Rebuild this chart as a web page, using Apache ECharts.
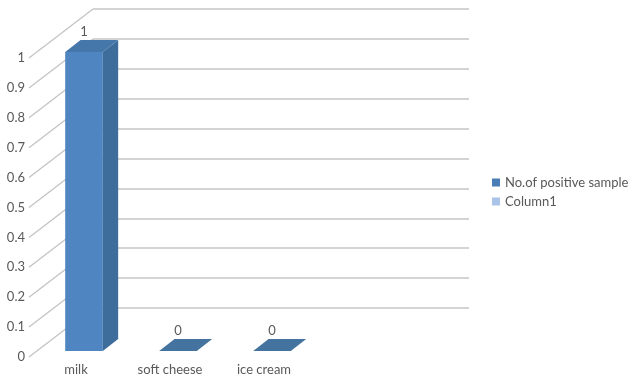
<!DOCTYPE html>
<html>
<head>
<meta charset="utf-8">
<script src="https://cdn.jsdelivr.net/npm/echarts@6/dist/echarts.min.js"></script>
<style>
  html, body { margin: 0; padding: 0; background: #fff; }
  #chart { width: 634px; height: 380px; }
</style>
</head>
<body>
<div id="chart"></div>
<script>
// data
const categories = ['milk', 'soft cheese', 'ice cream', ''];
const positiveSamples = [1, 0, 0];
const column1 = [];
const yTicks = [0, 0.1, 0.2, 0.3, 0.4, 0.5, 0.6, 0.7, 0.8, 0.9, 1];

// 3D look: offset from front plane to back wall (pixels)
const DEPTH_X = 64;
const DEPTH_Y = -49;
const BAR_FRONT = 0.125;   // where the bar front face sits in depth
const BAR_DEPTH = 0.24;    // how deep the bar is
const BAR_WIDTH = 0.4;     // fraction of band

const chart = echarts.init(document.getElementById('chart'));

// diagonal lines on the side wall
function renderSideLine(params, api) {
    const v = api.value(1);
    const band = api.size([1, 0])[0];
    const p = api.coord([0, v]);
    const x0 = p[0] - band / 2;
    return {
        type: 'line',
        shape: { x1: x0, y1: p[1], x2: x0 + DEPTH_X, y2: p[1] + DEPTH_Y },
        style: { stroke: '#c4c4c4', lineWidth: 1.3 }
    };
}

// 3D column
function renderBar3D(params, api) {
    const idx = api.value(0);
    const v = api.value(1);
    const band = api.size([1, 0])[0];
    const base = api.coord([idx, 0]);
    const top = api.coord([idx, v]);
    const w = band * BAR_WIDTH;
    const fx = DEPTH_X * BAR_FRONT, fy = DEPTH_Y * BAR_FRONT;
    const dx = DEPTH_X * BAR_DEPTH, dy = DEPTH_Y * BAR_DEPTH;
    const left = base[0] - w / 2 + fx;
    const right = left + w;
    const yb = base[1] + fy;
    const yt = top[1] + fy;
    const children = [];
    if (yb - yt > 0.5) {
        children.push({
            type: 'polygon',
            shape: { points: [[left, yt], [right, yt], [right, yb], [left, yb]] },
            style: { fill: '#4f86c2' }
        });
        children.push({
            type: 'polygon',
            shape: { points: [[right, yt], [right + dx, yt + dy], [right + dx, yb + dy], [right, yb]] },
            style: { fill: '#3e6d9b' }
        });
    }
    children.push({
        type: 'polygon',
        shape: { points: [[left, yt], [right, yt], [right + dx, yt + dy], [left + dx, yt + dy]] },
        style: { fill: yb - yt > 0.5 ? '#4677ab' : '#44739f' }
    });
    children.push({
        type: 'text',
        style: {
            text: String(v),
            x: left + w / 2,
            y: yt + dy - 8,
            align: 'center',
            verticalAlign: 'middle',
            fill: '#595959',
            font: '13px Lato'
        }
    });
    return { type: 'group', children: children };
}

const option = {
    backgroundColor: '#fff',
    textStyle: { fontFamily: 'Lato' },
    animation: false,
    legend: {
        orient: 'vertical',
        left: 492,
        top: 176,
        padding: 0,
        icon: 'rect',
        itemWidth: 8,
        itemHeight: 8,
        itemGap: 6,
        textStyle: { color: '#595959', fontSize: 13, fontFamily: 'Lato' },
        data: ['No.of positive sample', 'Column1']
    },
    grid: [
        // back wall
        { left: 93, top: 9, width: 376, height: 299 },
        // front plane
        { left: 29, top: 58, width: 376, height: 299 }
    ],
    xAxis: [
        {
            gridIndex: 0, type: 'category', data: categories,
            axisLine: { show: false }, axisTick: { show: false }, axisLabel: { show: false }
        },
        {
            gridIndex: 1, type: 'category', data: categories,
            axisLine: { show: false }, axisTick: { show: false },
            axisLabel: { color: '#595959', fontSize: 13, margin: 6 }
        }
    ],
    yAxis: [
        {
            gridIndex: 0, type: 'value', min: 0, max: 1, interval: 0.1,
            axisLine: { show: false }, axisTick: { show: false }, axisLabel: { show: false },
            splitLine: { lineStyle: { color: '#c6c6c6', width: 1.5 } }
        },
        {
            gridIndex: 1, type: 'value', min: 0, max: 1, interval: 0.1,
            axisLine: { show: false }, axisTick: { show: false },
            splitLine: { show: false },
            axisLabel: { color: '#595959', fontSize: 13, margin: 4 }
        }
    ],
    series: [
        {
            type: 'custom',
            xAxisIndex: 1, yAxisIndex: 1,
            silent: true,
            z: 1,
            renderItem: renderSideLine,
            data: yTicks.map(t => [0, t])
        },
        {
            name: 'No.of positive sample',
            type: 'custom',
            xAxisIndex: 1, yAxisIndex: 1,
            z: 5,
            itemStyle: { color: '#4a7db4' },
            renderItem: renderBar3D,
            data: positiveSamples.map((v, i) => [i, v])
        },
        {
            name: 'Column1',
            type: 'bar',
            xAxisIndex: 1, yAxisIndex: 1,
            itemStyle: { color: '#a9c4e6' },
            data: column1
        }
    ]
};

chart.setOption(option);
</script>
</body>
</html>
